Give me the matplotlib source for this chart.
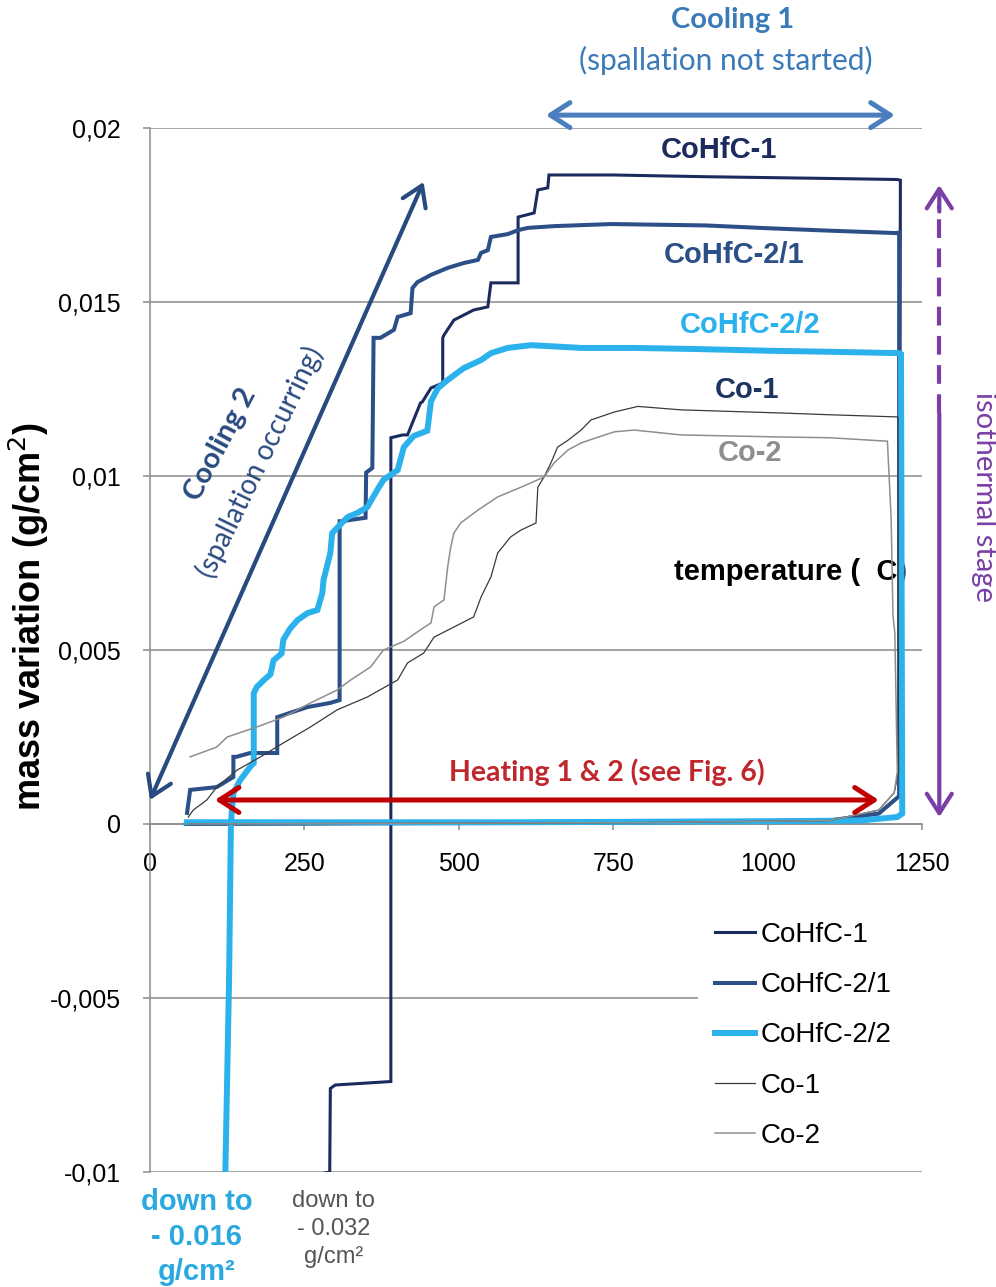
import matplotlib
matplotlib.use("Agg")
import matplotlib.pyplot as plt
from matplotlib.patches import Rectangle

# Mass variation (g/cm2) against temperature (C): heating -> isothermal hold -> cooling
cohfc1_T = [60, 400, 800, 1100, 1180, 1213, 1215, 1210, 1100, 900, 750, 646, 644, 628, 622,
            596, 596, 552, 547, 524, 492, 476, 474, 474, 455, 441, 438, 417, 409, 395, 390,
            390, 300, 292, 291, 265, 262, 60]
cohfc1_m = [0.0, 0.00002, 0.00004, 0.0001, 0.0003, 0.0008, 0.0185, 0.01852, 0.01855, 0.0186,
            0.01865, 0.01865, 0.01828, 0.01822, 0.01756, 0.01744, 0.01555, 0.01555, 0.01486,
            0.01477, 0.01448, 0.01405, 0.01397, 0.01267, 0.01253, 0.01213, 0.0121, 0.01118,
            0.01118, 0.01112, 0.0111, -0.0074, -0.0075, -0.0076, -0.0100, -0.0101, -0.032,
            -0.032]

cohfc21_T = [58, 400, 800, 1100, 1180, 1213, 1213, 1209, 1100, 1000, 900, 747, 654, 612, 597,
             579, 552, 547, 536, 531, 508, 482, 455, 433, 425, 422, 401, 395, 373, 362, 360,
             350, 349, 310, 307, 307, 292, 255, 216, 206, 206, 162, 140, 135, 135, 108, 65,
             60]
cohfc21_m = [0.0, 0.00002, 0.00004, 0.0001, 0.0003, 0.0008, 0.0170, 0.01698, 0.01705, 0.01712,
             0.0172, 0.01724, 0.01718, 0.01713, 0.01707, 0.01695, 0.01687, 0.01649, 0.01641,
             0.01621, 0.01612, 0.01598, 0.01578, 0.01557, 0.0154, 0.01468, 0.01457, 0.0142,
             0.01397, 0.01397, 0.01023, 0.0101, 0.0088, 0.0087, 0.0087, 0.00356, 0.00348,
             0.00336, 0.00313, 0.00307, 0.00204, 0.00204, 0.00193, 0.00193, 0.00135, 0.00106,
             0.00098, 0.00032]

cohfc22_T = [60, 600, 1000, 1150, 1210, 1218, 1216, 1213, 1100, 1000, 880, 784, 698, 617, 579,
             552, 536, 508, 482, 466, 455, 449, 427, 411, 401, 378, 368, 352, 336, 320, 304,
             295, 292, 281, 279, 271, 255, 239, 227, 216, 213, 200, 195, 187, 173, 168, 168,
             162, 146, 135, 133, 131, 128, 122, 120]
cohfc22_m = [0.00005, 0.00005, 0.00008, 0.0001, 0.0002, 0.0003, 0.0135, 0.01353, 0.01357,
             0.0136, 0.01365, 0.01368, 0.01368, 0.01376, 0.01368, 0.01353, 0.01333, 0.0131,
             0.01276, 0.01252, 0.01215, 0.0113, 0.01115, 0.01083, 0.01017, 0.00989, 0.0096,
             0.00911, 0.00894, 0.00882, 0.00853, 0.00836, 0.00779, 0.00701, 0.00664, 0.00615,
             0.00606, 0.00586, 0.00562, 0.0053, 0.0049, 0.0047, 0.0043, 0.00418, 0.00394,
             0.00376, 0.00175, 0.00164, 0.00126, 0.00089, 0.00049, 0.0, -0.0045, -0.0100,
             -0.016]

co1_T = [62, 400, 800, 1100, 1180, 1205, 1212, 1211, 1206, 1100, 1023, 860, 790, 752, 714, 698,
         677, 660, 649, 638, 628, 625, 601, 584, 563, 552, 536, 524, 492, 460, 443, 417, 401,
         352, 303, 260, 216, 179, 141, 108, 92, 70, 62]
co1_m = [0.0, 0.00002, 0.00004, 0.0001, 0.0004, 0.0009, 0.0015, 0.0117, 0.0117, 0.01176,
         0.01181, 0.0119, 0.0120, 0.01184, 0.01161, 0.01132, 0.01103, 0.01083, 0.01037,
         0.00997, 0.00968, 0.00865, 0.00845, 0.00825, 0.00779, 0.0071, 0.00652, 0.00595,
         0.00566, 0.00537, 0.00491, 0.00463, 0.00414, 0.00365, 0.00328, 0.00279, 0.00233,
         0.00193, 0.00155, 0.00106, 0.00069, 0.0004, 0.0002]

co2_T = [62, 400, 800, 1100, 1180, 1205, 1210, 1206, 1203, 1200, 1194, 1100, 1023, 860, 784,
         752, 726, 698, 677, 654, 638, 601, 563, 531, 503, 492, 487, 482, 476, 460, 455, 433,
         411, 378, 357, 325, 303, 260, 216, 173, 125, 108, 65]
co2_m = [0.0, 0.00002, 0.00004, 0.0001, 0.0004, 0.0009, 0.0015, 0.0055, 0.0060, 0.0088, 0.0110,
         0.0111, 0.01112, 0.01118, 0.01132, 0.01127, 0.01112, 0.01095, 0.01075, 0.01037,
         0.00997, 0.00968, 0.0094, 0.00902, 0.00865, 0.00836, 0.00796, 0.00739, 0.00644,
         0.00624, 0.00578, 0.00552, 0.00525, 0.005, 0.00451, 0.00414, 0.00385, 0.00348,
         0.00307, 0.00279, 0.0025, 0.00221, 0.00193]

series_names = ["CoHfC-1", "CoHfC-2/1", "CoHfC-2/2", "Co-1", "Co-2"]
series_colors = ["#1c2b5e", "#2c4f88", "#2bb1ec", "#3a3a3a", "#8e8e8e"]
series_widths = [2.2, 2.9, 4.3, 0.9, 1.1]

x_ticks = [0, 250, 500, 750, 1000, 1250]
y_ticks = [-0.01, -0.005, 0, 0.005, 0.01, 0.015, 0.02]
y_tick_labels = ["-0,01", "-0,005", "0", "0,005", "0,01", "0,015", "0,02"]

SANS = ["Liberation Sans", "DejaVu Sans"]
HUMAN = ["Lato", "DejaVu Sans"]
GRID = "#8c8c8c"
plt.rcParams["font.family"] = SANS

fig = plt.figure(figsize=(9.96, 12.87), dpi=100)
ax = fig.add_axes([150 / 996, 1 - 1172 / 1287, 772 / 996, 1044 / 1287])

curves = [(cohfc1_T, cohfc1_m), (cohfc21_T, cohfc21_m), (cohfc22_T, cohfc22_m),
          (co1_T, co1_m), (co2_T, co2_m)]
handles = []
for (t, m), name, col, lw in zip(curves, series_names, series_colors, series_widths):
    h, = ax.plot(t, m, color=col, lw=lw, label=name, solid_joinstyle="miter", zorder=3)
    handles.append(h)

for s in ("top", "right"):
    ax.spines[s].set_visible(False)
ax.spines["left"].set_color(GRID)
ax.spines["left"].set_linewidth(1.1)
ax.spines["bottom"].set_position(("data", 0))
ax.spines["bottom"].set_color(GRID)
ax.spines["bottom"].set_linewidth(1.1)

ax.set_xlim(0, 1250)
ax.set_ylim(-0.01, 0.02)
ax.set_xticks(x_ticks)
ax.set_xticklabels([str(v) for v in x_ticks])
ax.set_yticks(y_ticks)
ax.set_yticklabels(y_tick_labels)
ax.tick_params(axis="x", direction="out", length=4, width=1.1, color=GRID, pad=16,
               labelsize=18)
ax.tick_params(axis="y", direction="out", length=5, width=1.1, color=GRID, pad=16,
               labelsize=18)
ax.grid(True, axis="y", color=GRID, lw=1.1, zorder=0)
ax.set_axisbelow(True)

fig.text(29 / 996, 1 - 616 / 1287, "mass variation (g/cm$^{2}$)", rotation=90,
         ha="center", va="center", fontsize=26, fontweight="bold", family=SANS)

# curve labels
ax.text(922, 0.01937, "CoHfC-1", color="#1c2b5e", fontsize=21, fontweight="bold",
        ha="center", va="center")
ax.text(946, 0.01635, "CoHfC-2/1", color="#2c4f88", fontsize=21, fontweight="bold",
        ha="center", va="center")
ax.text(971, 0.01434, "CoHfC-2/2", color="#2bb1ec", fontsize=21, fontweight="bold",
        ha="center", va="center")
ax.text(966, 0.01247, "Co-1", color="#1c3560", fontsize=21, fontweight="bold",
        ha="center", va="center")
ax.text(971, 0.01066, "Co-2", color="#8e8e8e", fontsize=21, fontweight="bold",
        ha="center", va="center")
ax.text(1037, 0.00724, "temperature (  C)", color="black", fontsize=21, fontweight="bold",
        ha="center", va="center", zorder=2)


def arrow(x0, y0, x1, y1, color, lw, style="<->"):
    ax.annotate("", xy=(x1, y1), xytext=(x0, y0), annotation_clip=False,
                arrowprops=dict(arrowstyle=style + ",head_length=0.7,head_width=0.45",
                                color=color, lw=lw, shrinkA=0, shrinkB=0,
                                mutation_scale=20), zorder=4)


# stage arrows
arrow(641, 0.02037, 1206, 0.02037, "#4a7ebf", 3.6)
ax.text(943, 0.0231, "Cooling 1", color="#3a7ab8", fontsize=21, fontweight="bold",
        family=HUMAN, ha="center", va="center", clip_on=False)
ax.text(932, 0.02195, "(spallation not started)", color="#3a7ab8", fontsize=21.5,
        family=HUMAN, ha="center", va="center", clip_on=False)

arrow(0, 0.00069, 443, 0.01845, "#284a80", 3.0)
ax.text(114, 0.01092, "Cooling 2", color="#2a4a80", fontsize=21, fontweight="bold",
        family=HUMAN, ha="center", va="center", rotation=62)
ax.text(179, 0.0104, "(spallation occurring)", color="#2a4a80", fontsize=20,
        family=HUMAN, ha="center", va="center", rotation=64)

arrow(105, 0.00069, 1180, 0.00069, "#c00000", 3.6)
ax.text(739, 0.00149, "Heating 1 & 2 (see Fig. 6)", color="#c0272d", fontsize=20.5,
        fontweight="bold", family=HUMAN, ha="center", va="center")

# isothermal stage: dashed upper part, solid lower part
ax.plot([1278, 1278], [0.0118, 0.0178], color="#7a3fa6", lw=3.0, ls=(0, (4.5, 2.5)),
        clip_on=False, zorder=4)
arrow(1278, 0.0176, 1278, 0.01836, "#7a3fa6", 3.0, style="->")
arrow(1278, 0.0118, 1278, 0.0002, "#7a3fa6", 3.0, style="->")
ax.text(1351, 0.0094, "isothermal stage", color="#7a3fa6", fontsize=21, family=HUMAN,
        ha="center", va="center", rotation=270, clip_on=False)

# off-scale minima
ax.text(75, -0.01187, "down to\n- 0.016\ng/cm²", color="#29a9e0", fontsize=21,
        fontweight="bold", ha="center", va="center", linespacing=1.3, clip_on=False)
ax.text(297, -0.01164, "down to\n- 0.032\ng/cm²", color="#555555", fontsize=17,
        ha="center", va="center", linespacing=1.35, clip_on=False)

# white panel behind the legend, over the gridlines
ax.add_patch(Rectangle((0.71, 0.012), 0.29, 0.243, transform=ax.transAxes,
                       facecolor="white", edgecolor="none", zorder=4.5))
leg = ax.legend(handles=handles, loc="upper left", bbox_to_anchor=(0.717, 0.25),
                frameon=False, prop={"size": 20}, handlelength=1.45, handletextpad=0.2,
                labelspacing=0.87, borderaxespad=0, borderpad=0.4)
leg.set_zorder(5)

fig.savefig("out.png", dpi=100, facecolor="white")
